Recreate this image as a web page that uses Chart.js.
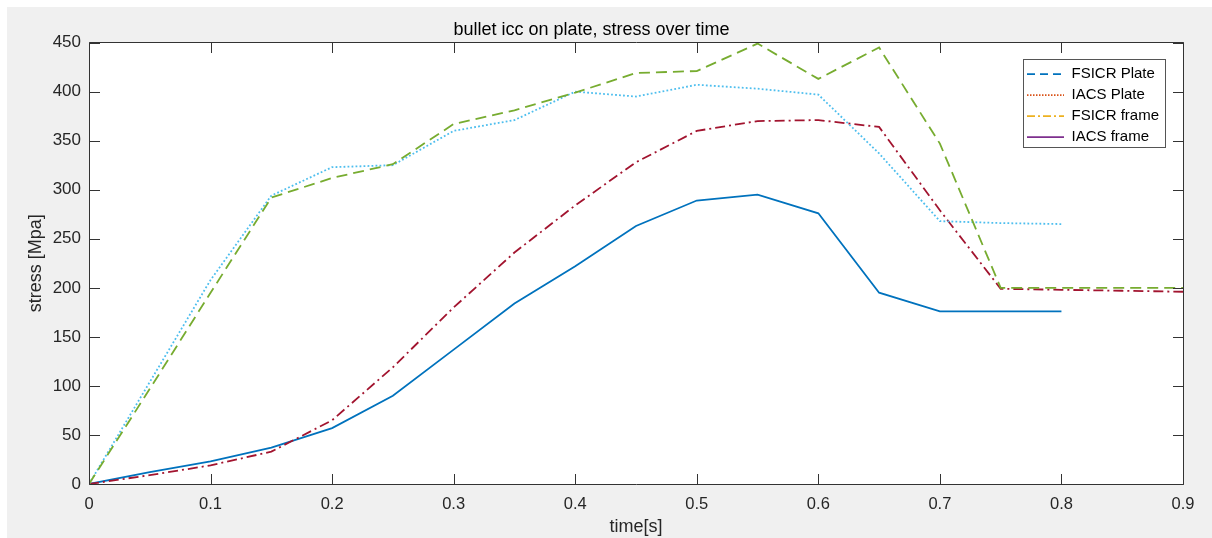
<!DOCTYPE html>
<html>
<head>
<meta charset="utf-8">
<script src="https://cdn.jsdelivr.net/npm/chart.js@4/dist/chart.umd.min.js"></script>
<style>
  html, body { margin: 0; padding: 0; background: #ffffff; }
  #wrap { width: 1212px; height: 538px; }
</style>
</head>
<body>
<div id="wrap"><canvas id="c" width="1212" height="538"></canvas></div>
<script>
// ---- data ----
const timeLong  = [0, 0.05, 0.1, 0.15, 0.2, 0.25, 0.3, 0.35, 0.4, 0.45, 0.5, 0.55, 0.6, 0.65, 0.7, 0.75, 0.8, 0.85, 0.9];
const timeShort = [0, 0.05, 0.1, 0.15, 0.2, 0.25, 0.3, 0.35, 0.4, 0.45, 0.5, 0.55, 0.6, 0.65, 0.7, 0.75, 0.8];

const fsicrPlate = [0, 97, 195, 292, 312, 326, 367, 381, 399, 419, 421, 449, 413, 445, 347, 200, 200, 200, 200];
const iacsPlate  = [0, 104, 208, 294, 323, 325, 360, 371, 400, 395, 407, 403, 397, 337, 268, 266, 265];
const fsicrFrame = [0, 9, 19, 33, 65, 119, 180, 236, 284, 328, 360, 370, 371, 364, 279, 199, 198, 197, 196];
const iacsFrame  = [0, 12, 23, 37, 57, 90, 137, 184, 222, 263, 289, 295, 276, 195, 176, 176, 176];

const seriesNames = ['FSICR Plate', 'IACS Plate', 'FSICR frame', 'IACS frame'];
const xTickLabels = ['0', '0.1', '0.2', '0.3', '0.4', '0.5', '0.6', '0.7', '0.8', '0.9'];
const yTickLabels = ['0', '50', '100', '150', '200', '250', '300', '350', '400', '450'];
const chartTitle = 'bullet icc on plate, stress over time';
const xTitle = 'time[s]';
const yTitle = 'stress [Mpa]';

// ---- styles ----
const lineColors   = ['#77AC30', '#4DBEEE', '#A2142F', '#0072BD'];
const lineDashes   = [[11, 6], [1.8, 2.2], [10, 4, 2, 4], []];
const legendColors = ['#0072BD', '#D95319', '#EDB120', '#7E2F8E'];
const legendDashes = [[8, 5], [1.5, 1.5], [8, 3, 2, 3], []];

function pts(xs, ys) { return ys.map((v, i) => ({ x: xs[i], y: v })); }

const seriesData = [
  pts(timeLong, fsicrPlate),
  pts(timeShort, iacsPlate),
  pts(timeLong, fsicrFrame),
  pts(timeShort, iacsFrame)
];

Chart.defaults.font.family = "'Liberation Sans', Arial, Helvetica, sans-serif";
Chart.defaults.color = '#262626';

const axisColor = '#333333';

const backgroundPlugin = {
  id: 'bg',
  beforeDraw(chart) {
    const { ctx, chartArea: a, width, height } = chart;
    ctx.save();
    ctx.fillStyle = '#ffffff';
    ctx.fillRect(0, 0, width, height);
    ctx.fillStyle = '#f0f0f0';
    ctx.fillRect(7, 7, width - 7, height - 7);
    ctx.fillStyle = '#ffffff';
    ctx.fillRect(a.left, a.top, a.right - a.left, a.bottom - a.top);
    ctx.restore();
    // place legend at upper right inside the axes
    const lg = chart.legend;
    if (lg) {
      lg.left = a.right - 162;
      lg.top = a.top + 18;
      lg.right = a.right - 14;
      lg.bottom = a.top + 118;
      lg.width = lg.right - lg.left;
      lg.height = lg.bottom - lg.top;
    }
  }
};

const boxPlugin = {
  id: 'axesBox',
  afterDraw(chart) {
    const { ctx, chartArea: a, scales } = chart;
    const L = Math.floor(a.left) + 0.5, R = Math.floor(a.right) + 0.5;
    const T = Math.floor(a.top) + 0.5, B = Math.floor(a.bottom) + 0.5;
    ctx.save();
    ctx.strokeStyle = axisColor;
    ctx.lineWidth = 1;
    ctx.setLineDash([]);
    ctx.beginPath();
    ctx.rect(L, T, R - L, B - T);
    const tl = 10.5;
    scales.x.ticks.forEach(t => {
      const px = Math.round(scales.x.getPixelForValue(t.value)) + 0.5;
      ctx.moveTo(px, B); ctx.lineTo(px, B - tl);
      ctx.moveTo(px, T); ctx.lineTo(px, T + tl);
    });
    scales.y.ticks.forEach(t => {
      const py = Math.round(scales.y.getPixelForValue(t.value)) + 0.5;
      ctx.moveTo(L, py); ctx.lineTo(L + tl, py);
      ctx.moveTo(R, py); ctx.lineTo(R - tl, py);
    });
    ctx.stroke();
    // legend frame
    const lg = chart.legend;
    if (lg) {
      ctx.strokeStyle = '#555555';
      ctx.strokeRect(Math.floor(lg.left + 2) + 0.5, Math.floor(lg.top) - 0.5, 142, 88);
    }
    ctx.restore();
  }
};

new Chart(document.getElementById('c'), {
  type: 'line',
  data: {
    datasets: seriesNames.map((name, i) => ({
      label: name,
      data: seriesData[i],
      borderColor: lineColors[i],
      backgroundColor: lineColors[i],
      borderDash: lineDashes[i],
      borderWidth: 1.8,
      pointRadius: 0,
      tension: 0,
      fill: false
    }))
  },
  options: {
    responsive: false,
    animation: false,
    devicePixelRatio: 1,
    layout: { padding: { left: 0, right: 29, top: 0, bottom: 0 } },
    plugins: {
      title: {
        display: true,
        text: chartTitle,
        color: '#000000',
        font: { size: 18, weight: 'normal' },
        padding: { top: 19, bottom: 2 }
      },
      legend: {
        display: true,
        position: 'chartArea',
        align: 'start',
        labels: {
          usePointStyle: true,
          pointStyleWidth: 37,
          padding: 6,
          color: '#000000',
          font: { size: 15 },
          generateLabels: (chart) => chart.data.datasets.map((ds, i) => ({
            text: ds.label,
            fillStyle: legendColors[i],
            strokeStyle: legendColors[i],
            fontColor: '#000000',
            lineWidth: 1.6,
            lineDash: legendDashes[i],
            pointStyle: 'line',
            hidden: false,
            datasetIndex: i
          }))
        }
      },
      tooltip: { enabled: false }
    },
    scales: {
      x: {
        type: 'linear',
        position: 'bottom',
        min: 0,
        max: 0.9,
        grid: { display: false, drawTicks: false },
        border: { display: false },
        ticks: {
          stepSize: 0.1,
          autoSkip: false,
          maxRotation: 0,
          padding: 11,
          color: '#262626',
          font: { size: 16.5 },
          callback: (v, i) => xTickLabels[i]
        },
        title: {
          display: true,
          text: xTitle,
          color: '#262626',
          font: { size: 18 },
          padding: { top: 0, bottom: 0 }
        },
        afterFit: (s) => { s.height = 54; }
      },
      y: {
        type: 'linear',
        min: 0,
        max: 450,
        grid: { display: false, drawTicks: false },
        border: { display: false },
        ticks: {
          stepSize: 50,
          padding: 8,
          color: '#262626',
          font: { size: 17 },
          callback: (v, i) => yTickLabels[i]
        },
        title: {
          display: true,
          text: yTitle,
          color: '#262626',
          font: { size: 18 },
          padding: { top: 25, bottom: 0 }
        },
        afterFit: (s) => { s.width = 89; }
      }
    }
  },
  plugins: [backgroundPlugin, boxPlugin]
});
</script>
</body>
</html>
